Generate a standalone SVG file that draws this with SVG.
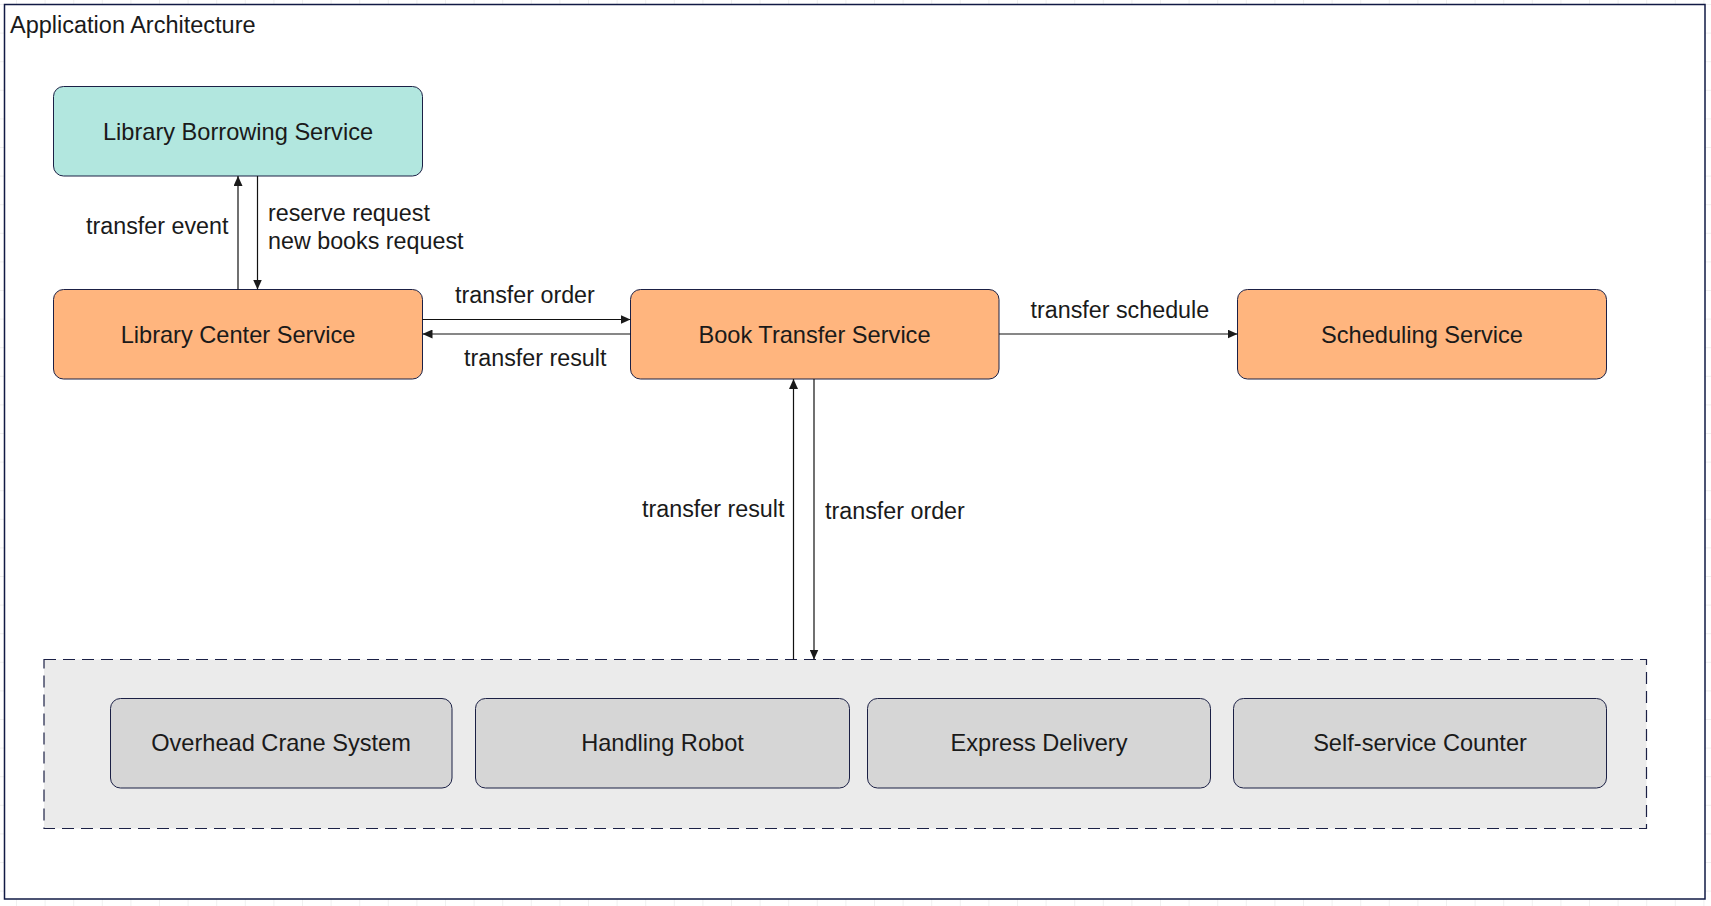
<svg xmlns="http://www.w3.org/2000/svg" width="1711" height="906" viewBox="0 0 1711 906">
<defs>
<pattern id="grid" x="16" y="4" width="28.6" height="28.6" patternUnits="userSpaceOnUse">
<path d="M0,0 V28.6 M0,0 H28.6" fill="none" stroke="#e2e2e2" stroke-width="1"/>
</pattern>
<marker id="arr" viewBox="0 0 10 9" refX="10" refY="4.5" markerWidth="10" markerHeight="9" markerUnits="userSpaceOnUse" orient="auto">
<path d="M0,0 L10,4.5 L0,9 Z" fill="#1a1a1a"/>
</marker>
</defs>
<style>
text{font-family:"Liberation Sans",Arial,sans-serif;font-size:23.3px;fill:#1a1a1a}
.c{text-anchor:middle;font-size:23.6px}
.t{font-size:23.5px}
.node{stroke:#1b2045;stroke-width:1}
.teal{fill:#b2e7df}
.orange{fill:#ffb57e}
.gray{fill:#d6d6d6}
.conn{stroke:#111;stroke-width:1.2;fill:none;marker-end:url(#arr)}
</style>
<rect x="0" y="0" width="1711" height="906" fill="#ffffff"/>
<rect x="0" y="0" width="1711" height="906" fill="url(#grid)"/>
<g id="frame">
<rect x="4.5" y="4.5" width="1700.5" height="894.5" fill="#ffffff" stroke="#111a44" stroke-width="1.5"/>
<text class="t" x="10" y="33">Application Architecture</text>
</g>
<g id="container">
<rect x="44" y="659.5" width="1602.5" height="169" fill="#ebebeb" stroke="#1b2045" stroke-width="1.2" stroke-dasharray="12 7"/>
</g>
<g id="library-borrowing">
<rect class="node teal" x="53.5" y="86.5" width="369" height="89.5" rx="10"/>
<text class="c" x="238" y="140">Library Borrowing Service</text>
</g>
<g id="library-center">
<rect class="node orange" x="53.5" y="289.5" width="369" height="89.5" rx="10"/>
<text class="c" x="238" y="342.7">Library Center Service</text>
</g>
<g id="book-transfer">
<rect class="node orange" x="630.5" y="289.5" width="368.5" height="89.5" rx="10"/>
<text class="c" x="814.5" y="342.7">Book Transfer Service</text>
</g>
<g id="scheduling">
<rect class="node orange" x="1237.5" y="289.5" width="369" height="89.5" rx="10"/>
<text class="c" x="1422" y="342.7">Scheduling Service</text>
</g>
<g id="overhead-crane">
<rect class="node gray" x="110.5" y="698.5" width="341.5" height="89.5" rx="10"/>
<text class="c" x="281" y="751">Overhead Crane System</text>
</g>
<g id="handling-robot">
<rect class="node gray" x="475.5" y="698.5" width="374" height="89.5" rx="10"/>
<text class="c" x="662.5" y="751">Handling Robot</text>
</g>
<g id="express-delivery">
<rect class="node gray" x="867.5" y="698.5" width="343" height="89.5" rx="10"/>
<text class="c" x="1039" y="751">Express Delivery</text>
</g>
<g id="self-service">
<rect class="node gray" x="1233.5" y="698.5" width="373" height="89.5" rx="10"/>
<text class="c" x="1420" y="751">Self-service Counter</text>
</g>
<g id="connectors">
<line class="conn" x1="238" y1="289.5" x2="238" y2="176"/>
<line class="conn" x1="257.5" y1="176" x2="257.5" y2="289.5"/>
<line class="conn" x1="422.5" y1="319.5" x2="630.5" y2="319.5"/>
<line class="conn" x1="630.5" y1="334" x2="422.5" y2="334"/>
<line class="conn" x1="999" y1="334" x2="1237.5" y2="334"/>
<line class="conn" x1="793.5" y1="659.5" x2="793.5" y2="379"/>
<line class="conn" x1="814" y1="379" x2="814" y2="659.5"/>
<text x="86" y="234">transfer event</text>
<text x="268" y="221">reserve request</text>
<text x="268" y="249">new books request</text>
<text x="455" y="303">transfer order</text>
<text x="464" y="366">transfer result</text>
<text x="1030.5" y="318">transfer schedule</text>
<text x="642" y="517">transfer result</text>
<text x="825" y="519">transfer order</text>
</g>
</svg>
